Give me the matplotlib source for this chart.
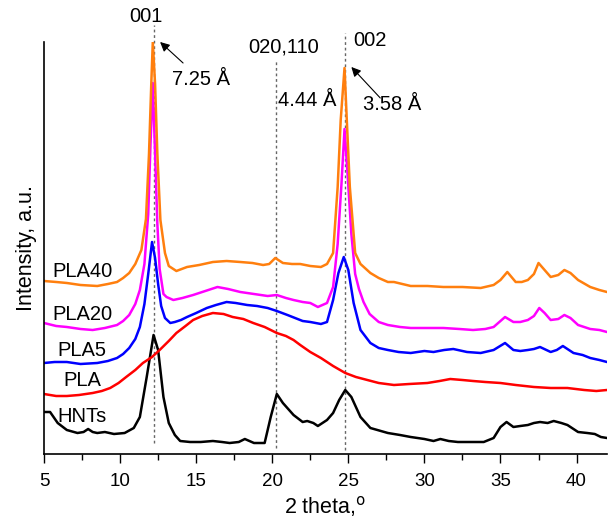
import matplotlib
matplotlib.use("Agg")
import matplotlib.pyplot as plt

plt.rcParams['font.family'] = ['Liberation Sans', 'DejaVu Sans']

# 2 theta / intensity (a.u.)
hnt_x = [5.0, 5.4, 5.9, 6.5, 7.2, 7.6, 7.9, 8.2, 8.5, 9.0, 9.6, 10.3, 10.9, 11.3, 11.75, 12.2, 12.5, 12.85,
         13.2, 13.6, 13.95, 14.6, 15.3, 16.1, 16.7, 17.2, 17.8, 18.2, 18.8, 19.5, 19.9, 20.3, 20.7, 21.4,
         22.0, 22.3, 22.7, 23.0, 23.6, 24.0, 24.4, 24.8, 25.2, 25.8, 26.45, 27.6, 28.4, 29.1, 30.0, 30.6,
         31.05, 31.6, 32.2, 33.0, 33.9, 34.55, 35.0, 35.4, 35.85, 36.3, 36.8, 37.2, 37.6, 38.1, 38.5,
         39.0, 39.4, 40.1, 40.7, 41.2, 41.6, 42.0]
hnt_y = [42, 42, 31, 24, 21, 22, 25, 22, 21, 22, 20, 21, 26, 37, 77, 119, 104, 57,
         31, 19, 13, 12, 12, 13, 12, 11, 12, 15, 11, 11, 37, 60, 51, 39,
         32, 33, 31, 28, 34, 41, 54, 64, 57, 37, 26, 21, 19, 17, 15, 13,
         15, 13, 12, 12, 12, 16, 27, 32, 27, 28, 29, 31, 32, 31, 33,
         31, 29, 22, 21, 20, 17, 16]

pla_x = [5.0, 5.8, 6.5, 7.3, 8.2, 8.8, 9.35, 9.9, 10.4, 11.0, 11.5, 12.1, 12.6, 13.2, 13.7, 14.3, 14.8,
         15.4, 16.1, 16.8, 17.4, 18.1, 18.75, 19.5, 20.3, 20.9, 21.4, 21.84, 22.5, 23.2, 24.0, 24.8,
         25.5, 26.25, 27.0, 28.0, 29.0, 30.2, 31.0, 31.7, 32.5, 33.2, 34.0, 35.0, 36.0, 37.2, 38.3,
         39.4, 40.5, 41.3, 42.0]
pla_y = [60, 58, 58, 59, 61, 63, 66, 71, 77, 84, 91, 97, 104, 113, 121, 128, 134,
         138, 141, 140, 137, 135, 131, 127, 121, 118, 114, 109, 102, 96, 88, 81,
         77, 74, 71, 69, 70, 71, 73, 75, 74, 73, 72, 71, 69, 67, 66,
         66, 64, 63, 64]

pla5_x = [5.0, 5.7, 6.5, 7.4, 8.5, 9.2, 9.8, 10.2, 10.6, 11.0, 11.3, 11.6, 11.85, 12.1, 12.3, 12.5,
          12.7, 12.95, 13.3, 13.6, 14.0, 14.4, 15.0, 15.7, 16.3, 17.0, 17.6, 18.35, 19.0, 19.7, 20.3,
          21.0, 21.5, 22.0, 22.5, 23.2, 23.6, 24.0, 24.35, 24.7, 25.0, 25.35, 25.8, 26.45, 27.0,
          27.6, 28.3, 29.1, 30.0, 30.6, 31.3, 31.9, 32.8, 33.7, 34.55, 35.3, 35.85, 36.3, 36.8,
          37.2, 37.6, 38.3, 38.7, 39.1, 39.8, 40.4, 40.9, 41.5, 42.0]
pla5_y = [91, 92, 92, 90, 91, 93, 96, 100, 106, 115, 127, 150, 180, 212, 196, 170,
          148, 136, 131, 132, 134, 137, 141, 146, 149, 152, 151, 149, 148, 146, 143,
          139, 136, 133, 132, 130, 132, 154, 181, 197, 184, 151, 124, 111, 106,
          104, 102, 101, 103, 102, 104, 105, 102, 101, 104, 111, 104, 103, 104,
          105, 107, 102, 104, 108, 101, 99, 96, 94, 92]

pla20_x = [5.0, 5.8, 6.5, 7.4, 8.2, 9.0, 9.8, 10.2, 10.6, 11.0, 11.3, 11.6, 11.85, 12.0, 12.15,
           12.3, 12.45, 12.6, 12.85, 13.05, 13.5, 14.1, 14.8, 15.6, 16.4, 17.1, 17.9, 18.8, 19.7,
           20.3, 20.9, 21.4, 22.0, 22.5, 23.0, 23.6, 24.0, 24.3, 24.55, 24.75, 24.95, 25.2, 25.45,
           25.7, 26.0, 26.4, 27.0, 27.6, 28.4, 29.1, 30.2, 31.25, 32.3, 33.2, 34.0, 34.55, 35.3,
           35.85, 36.3, 36.8, 37.2, 37.55, 37.9, 38.3, 38.8, 39.2, 39.6, 40.1, 40.9, 41.5, 42.0]
pla20_y = [131, 128, 127, 125, 124, 126, 129, 133, 139, 150, 164, 190, 240, 310, 371,
           300, 230, 185, 160, 157, 154, 156, 159, 163, 167, 165, 162, 160, 158,
           159, 156, 154, 152, 151, 147, 151, 167, 210, 270, 325, 280, 220, 180,
           165, 152, 140, 132, 129, 127, 126, 126, 126, 125, 124, 125, 127, 137,
           132, 132, 134, 138, 146, 141, 134, 135, 139, 136, 129, 125, 124, 122]

pla40_x = [5.0, 5.8, 6.5, 7.4, 8.5, 9.2, 9.8, 10.2, 10.6, 11.0, 11.4, 11.7, 11.9, 12.05, 12.15,
           12.3, 12.45, 12.65, 12.95, 13.2, 13.7, 14.4, 15.2, 16.1, 17.0, 17.9, 18.7, 19.4, 19.8,
           20.2, 20.7, 21.3, 21.84, 22.5, 23.2, 23.6, 24.0, 24.3, 24.5, 24.75, 24.9, 25.1, 25.45,
           25.8, 26.45, 27.0, 27.6, 28.0, 29.1, 30.2, 31.25, 32.5, 33.7, 34.55, 35.0, 35.45, 36.0,
           36.4, 36.8, 37.2, 37.5, 37.9, 38.3, 38.8, 39.2, 39.6, 40.1, 40.9, 41.5, 42.0]
pla40_y = [173, 172, 171, 169, 168, 170, 172, 176, 181, 190, 204, 235, 300, 370, 412,
           370, 300, 234, 201, 188, 183, 187, 189, 192, 193, 192, 191, 189, 190,
           196, 191, 190, 190, 188, 187, 190, 201, 267, 334, 386, 334, 267, 201,
           190, 181, 176, 172, 172, 168, 168, 167, 167, 166, 169, 174, 182, 172,
           172, 174, 180, 191, 184, 177, 179, 184, 181, 174, 167, 164, 162]

series = [
    (hnt_x, hnt_y, 'black', 'HNTs', 37),
    (pla_x, pla_y, '#ff0000', 'PLA', 73),
    (pla5_x, pla5_y, '#0000ff', 'PLA5', 103),
    (pla20_x, pla20_y, '#ff00ff', 'PLA20', 139),
    (pla40_x, pla40_y, '#ff7f0e', 'PLA40', 182),
]

fig = plt.figure(figsize=(6.12, 5.21), dpi=100)
ax = fig.add_axes([0.0719, 0.1286, 0.9199, 0.7908])

# reflections
for xv, y0, y1 in [(12.24, 11, 429), (20.26, 6, 394), (24.76, 4, 421)]:
    ax.plot([xv, xv], [y0, y1], color='#666666', lw=1, ls=(0, (2, 2)), clip_on=False, zorder=1)

for xs, ys, c, name, ly in series:
    ax.plot(xs, ys, color=c, lw=1.8, zorder=2)
    ax.text(7.5, ly, name, fontsize=14.5, ha='center', va='center')

ax.text(11.71, 437, '001', fontsize=14.5, ha='center', va='center')
ax.text(20.72, 407, '020,110', fontsize=14.5, ha='center', va='center')
ax.text(26.45, 413, '002', fontsize=14.5, ha='center', va='center')
ax.text(22.3, 353, '4.44 Å', fontsize=14.5, ha='center', va='center')

arrow = dict(arrowstyle='-|>', color='black', lw=0.8, mutation_scale=14, shrinkA=0, shrinkB=0)
ax.annotate('', xy=(12.63, 412), xytext=(14.14, 391), arrowprops=arrow, annotation_clip=False)
ax.text(15.33, 374, '7.25 Å', fontsize=14.5, ha='center', va='center')
ax.annotate('', xy=(25.2, 387), xytext=(27.1, 356), arrowprops=arrow, annotation_clip=False)
ax.text(27.89, 349, '3.58 Å', fontsize=14.5, ha='center', va='center')

ax.set_xlim(5, 42)
ax.set_ylim(0, 412)
ax.set_xticks([5, 10, 15, 20, 25, 30, 35, 40])
ax.set_xticks([7.5, 12.5, 17.5, 22.5, 27.5, 32.5, 37.5], minor=True)
ax.set_yticks([])
ax.tick_params(axis='x', which='major', length=6.5, width=1, labelsize=13.5, pad=7)
ax.tick_params(axis='x', which='minor', length=4, width=1)
for s in ['top', 'right']:
    ax.spines[s].set_visible(False)
ax.spines['left'].set_linewidth(1.2)
ax.spines['bottom'].set_linewidth(1.2)

ax.set_xlabel('2 theta,$^{\\mathrm{o}}$', fontsize=15.5, labelpad=3)
ax.set_ylabel('Intensity, a.u.', fontsize=15.5, labelpad=5)

fig.savefig('out.png', dpi=100)
